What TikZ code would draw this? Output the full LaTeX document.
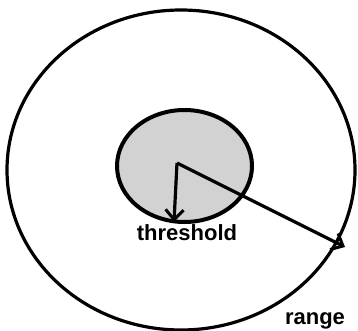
\documentclass[tikz,border=0pt]{standalone}
\usepackage{fontspec}
\setmainfont{Liberation Sans}
\usetikzlibrary{shapes.geometric,arrows.meta}
\begin{document}
\begin{tikzpicture}[x=1pt,y=-1pt,
  ring/.style={draw=black,ellipse,inner sep=0pt,line width=3.2pt},
  radius/.style={draw=black,line width=3.2pt,-{Straight Barb[length=10pt,width=18pt,line width=3pt]}},
  lbl/.style={font=\bfseries\fontsize{22}{22}\selectfont,inner sep=0pt}]
\useasboundingbox (0,0) rectangle (358,331);
\node[ring,minimum width=348pt,minimum height=320pt] (outer) at (181,170) {};
\node[ring,fill=gray!35,line width=4pt,minimum width=135pt,minimum height=112pt] (inner) at (184.5,166) {};
\coordinate (c) at (177,163);
\coordinate (te) at (174,222);
\coordinate (re) at (345,247);
\draw[radius] (c) -- (te);
\draw[radius] (c) -- (re);
\node[lbl] (thr) at (187,233) {threshold};
\node[lbl] (rng) at (315,321) {range};
\end{tikzpicture}
\end{document}
